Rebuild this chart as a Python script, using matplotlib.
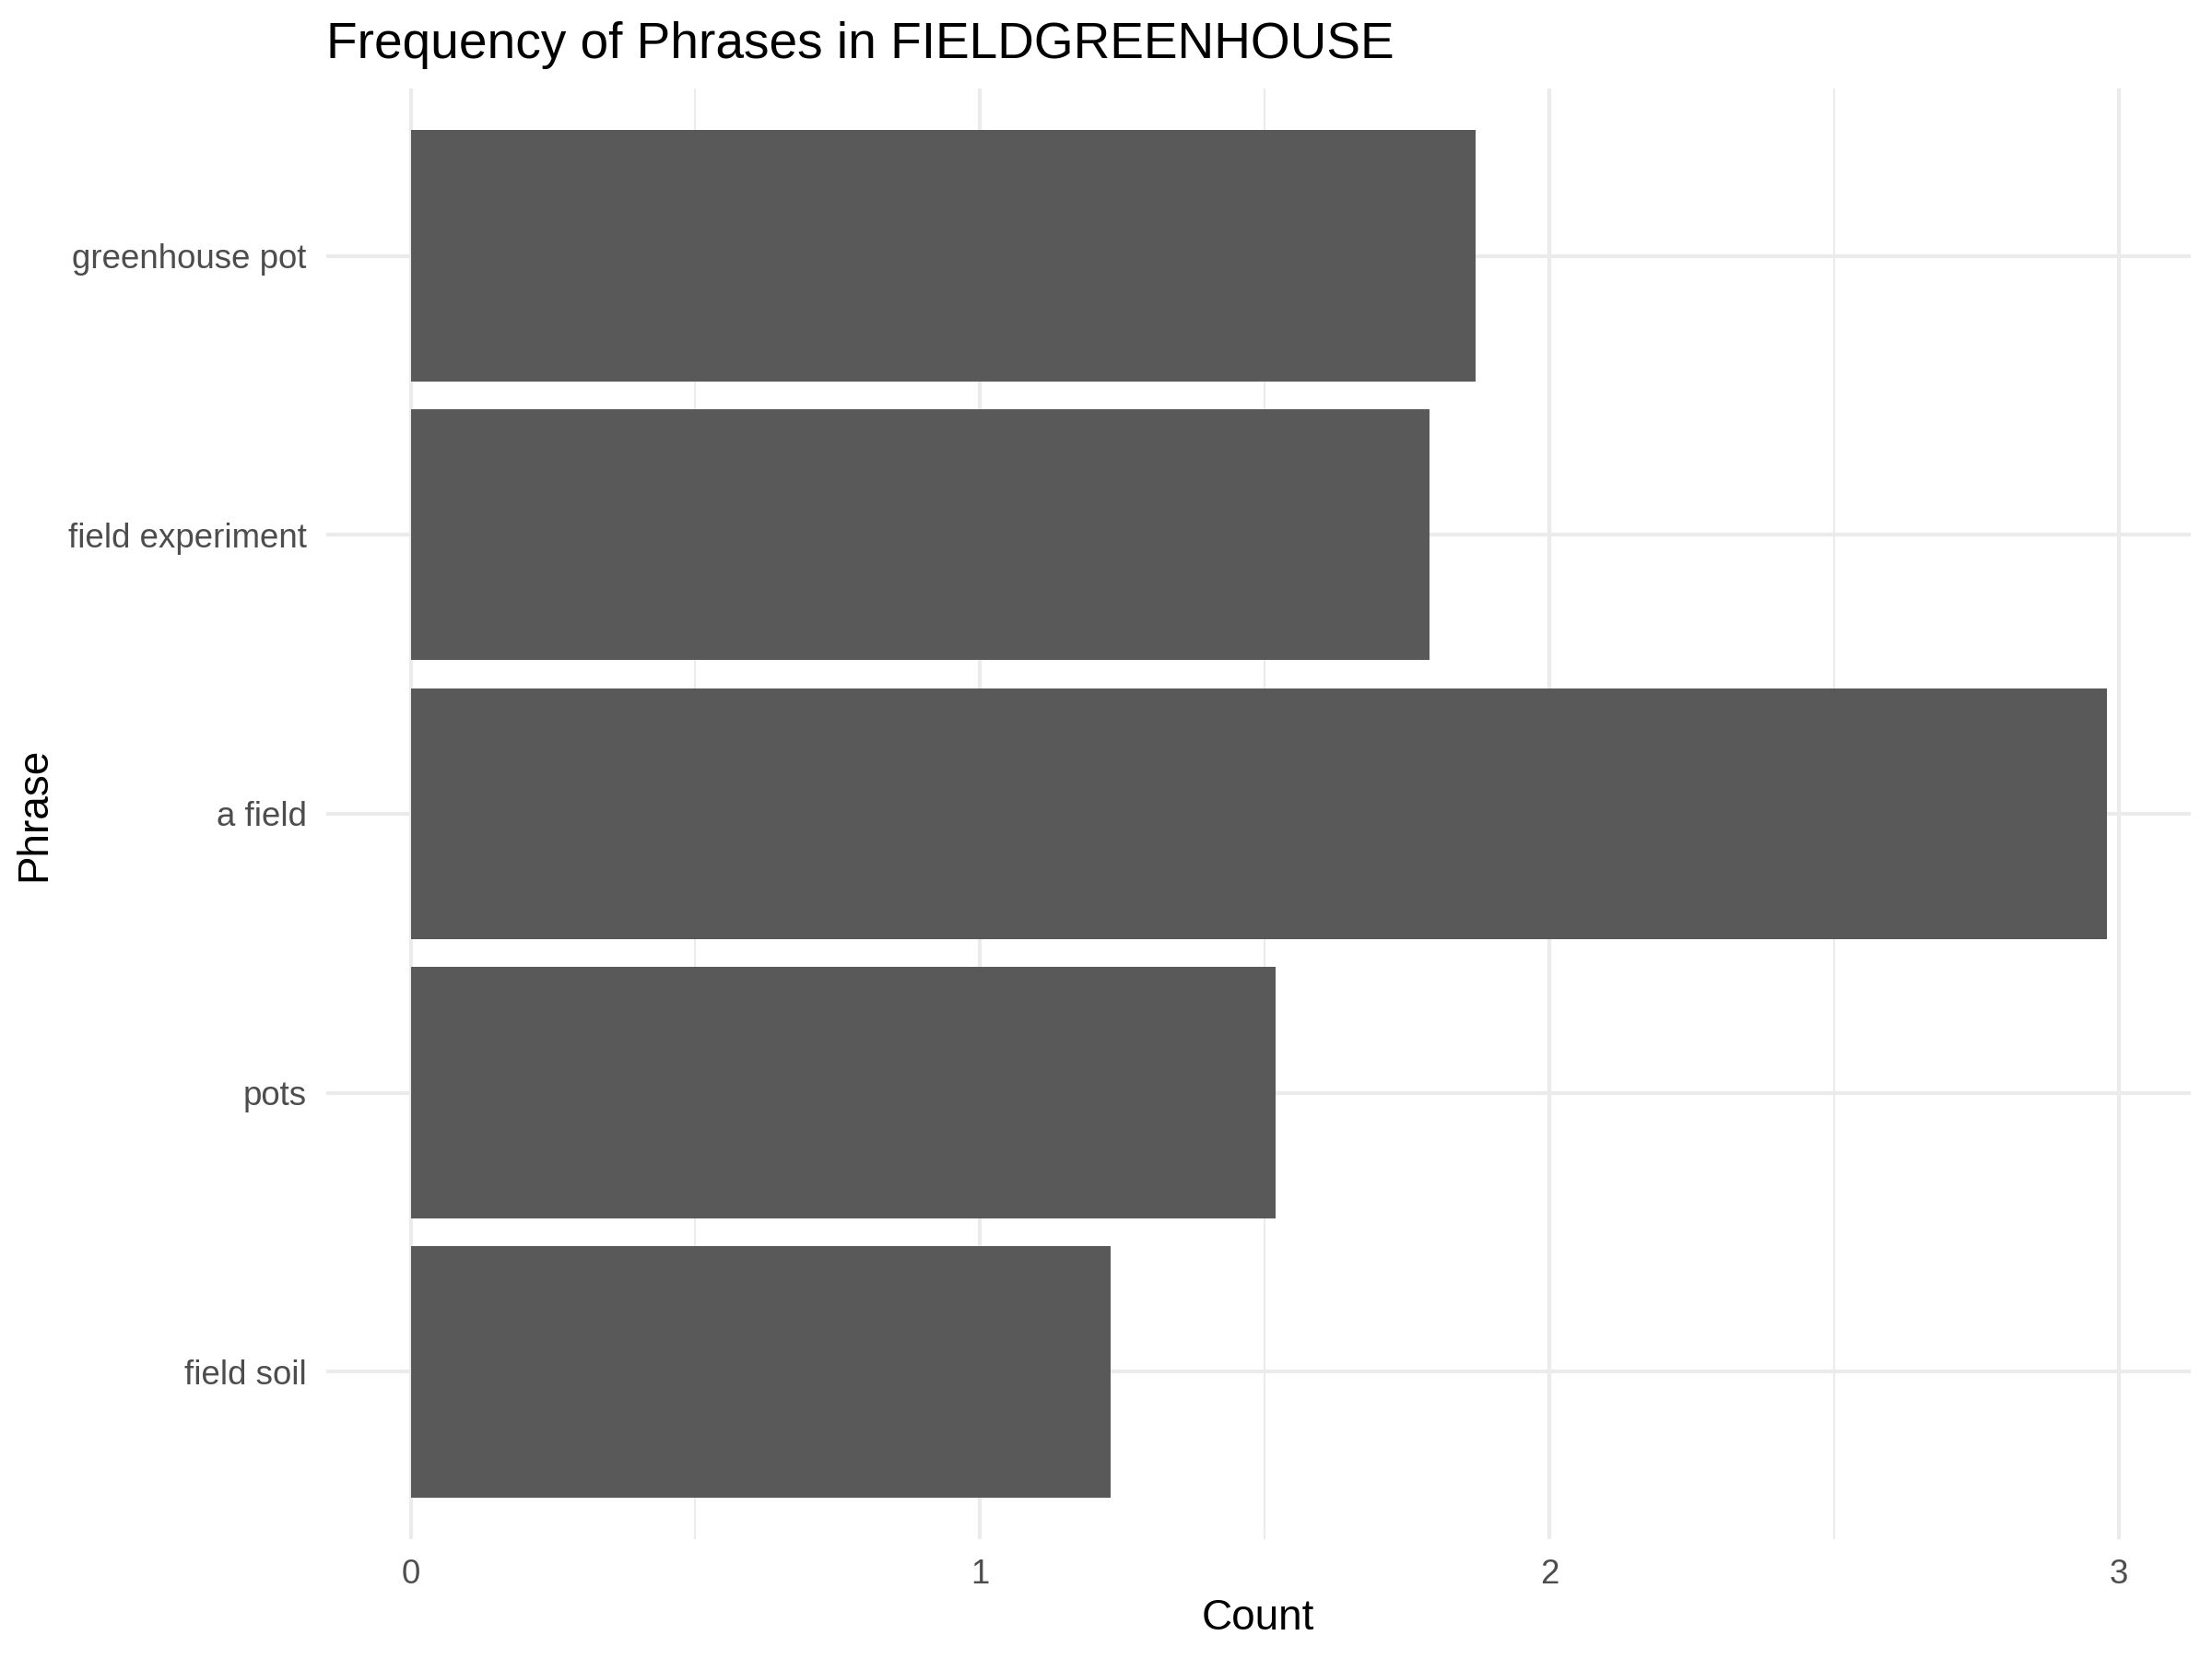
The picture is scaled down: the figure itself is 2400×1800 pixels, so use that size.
#!/usr/bin/env python3
"""Horizontal bar chart of phrase counts, ggplot theme_minimal look"""
import matplotlib
matplotlib.use("Agg")
import matplotlib.pyplot as plt

# Data (bottom to top, as drawn)
phrases = ["field soil", "pots", "a field", "field experiment", "greenhouse pot"]
counts = [1.23, 1.52, 2.98, 1.79, 1.87]

x_major = [0, 1, 2, 3]
x_minor = [0.5, 1.5, 2.5]

plt.rcParams['font.family'] = ['Liberation Sans', 'DejaVu Sans']

fig = plt.figure(figsize=(8, 6), dpi=300)
ax = fig.add_axes([0.1473, 0.0722, 0.9904 - 0.1473, 0.9467 - 0.0722])

ax.barh(phrases, counts, height=0.9, color='#595959', zorder=3)

# ggplot-like expansion
ax.set_xlim(-0.149, 3.127)
ax.set_ylim(-0.6, len(phrases) - 0.4)

ax.set_xticks(x_major)
ax.set_xticks(x_minor, minor=True)
ax.grid(True, which='major', color='#EBEBEB', linewidth=1.0, zorder=0)
ax.grid(True, which='minor', axis='x', color='#EBEBEB', linewidth=0.5, zorder=0)
ax.set_axisbelow(True)

for s in ax.spines.values():
    s.set_visible(False)
ax.tick_params(which='both', length=0)
ax.tick_params(axis='both', labelsize=8.8, labelcolor='#4D4D4D')
ax.tick_params(axis='x', pad=5)
ax.tick_params(axis='y', pad=5)

ax.set_xlabel('Count', fontsize=11, color='black', labelpad=2)
ax.set_ylabel('Phrase', fontsize=11, color='black', labelpad=3.5)
ax.set_title('Frequency of Phrases in FIELDGREENHOUSE', fontsize=13.2,
             loc='left', pad=8, color='black')

fig.savefig('out.png', dpi=300, facecolor='white')
plt.close(fig)
